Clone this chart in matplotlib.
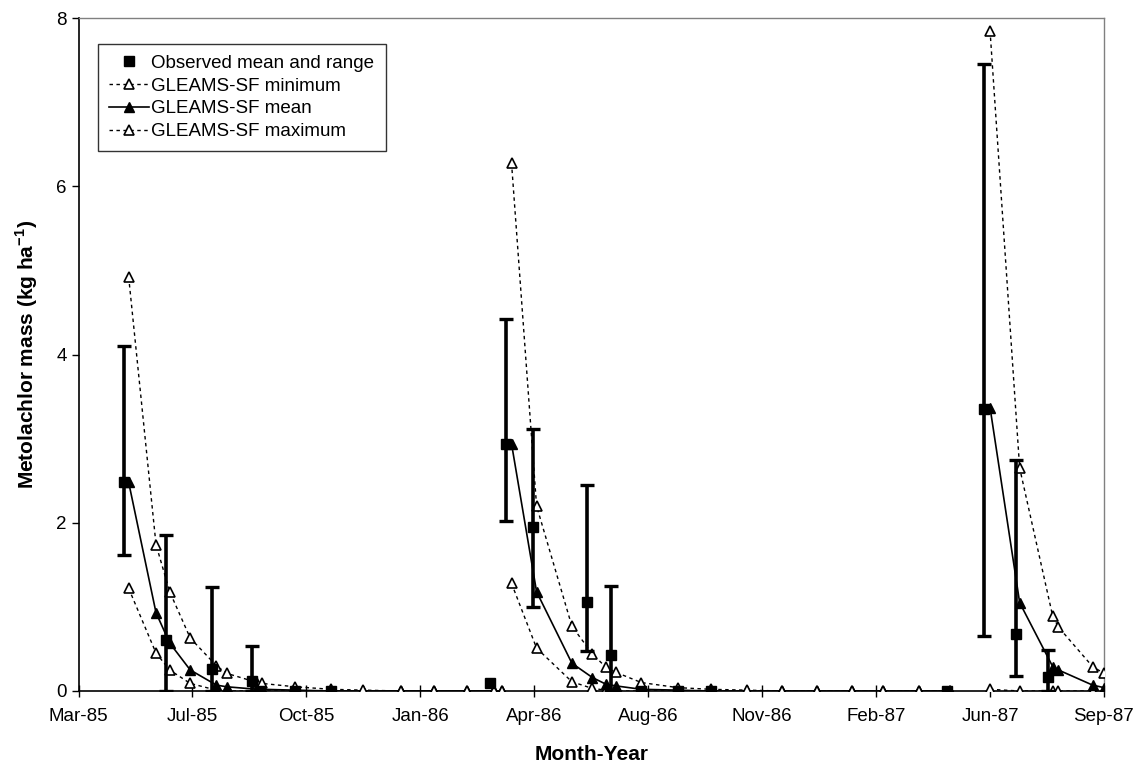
import numpy as np
import matplotlib
matplotlib.use("Agg")
import matplotlib.pyplot as plt
import matplotlib.dates as mdates
import datetime

plt.rcParams['font.family'] = ['Liberation Sans', 'DejaVu Sans']
plt.rcParams['mathtext.fontset'] = 'custom'
plt.rcParams['mathtext.rm'] = 'Liberation Sans'
plt.rcParams['mathtext.bf'] = 'Liberation Sans:bold'

# Observed metolachlor mass (mean, min, max of samples)
obs_dates = ['1985-05-04', '1985-06-10', '1985-07-20', '1985-08-24', '1985-08-31',
             '1985-10-01', '1985-11-02', '1986-03-21', '1986-04-04', '1986-04-28',
             '1986-06-14', '1986-07-05', '1986-08-01', '1986-09-02', '1986-10-01',
             '1987-04-26', '1987-05-29', '1987-06-26', '1987-07-24']
obs_mean = [2.48, 0.61, 0.26, 0.12, 0.0, 0.0, 0.0, 0.10, 2.94, 1.95,
            1.06, 0.43, 0.0, 0.0, 0.0, 0.0, 3.35, 0.68, 0.17]
obs_low = [1.62, 0.0, 0.0, 0.0, 0.0, 0.0, 0.0, 0.10, 2.02, 1.00,
           0.47, 0.0, 0.0, 0.0, 0.0, 0.0, 0.65, 0.18, 0.0]
obs_high = [4.10, 1.85, 1.24, 0.53, 0.0, 0.0, 0.0, 0.10, 4.42, 3.12,
            2.45, 1.25, 0.0, 0.0, 0.0, 0.0, 7.45, 2.75, 0.49]

# GLEAMS-SF simulated values (season = application year the line belongs to)
sim_dates = ['1985-05-08', '1985-06-01', '1985-06-13', '1985-07-01', '1985-07-24',
             '1985-08-02', '1985-08-29', '1985-09-02', '1985-10-01', '1985-11-02',
             '1985-11-30', '1986-01-02', '1986-01-31', '1986-03-01', '1986-03-25',
             '1986-04-01', '1986-04-09', '1986-05-01', '1986-06-01', '1986-06-19',
             '1986-07-01', '1986-07-10', '1986-08-01', '1986-09-02', '1986-10-01',
             '1986-11-02', '1986-12-02', '1987-01-02', '1987-02-02', '1987-03-01',
             '1987-04-02', '1987-04-29', '1987-06-03', '1987-06-29', '1987-07-28',
             '1987-08-02', '1987-09-01', '1987-09-11']
sim_season = [1985] * 16 + [1986] * 16 + [1987] * 6
sim_min = [1.22, 0.45, 0.25, 0.09, 0.01, 0.0, 0.0, 0.0, 0.0, 0.0,
           0.0, 0.0, 0.0, 0.0, 0.0, 0.0, 1.28, 0.51, 0.11, 0.03,
           0.01, 0.0, 0.0, 0.0, 0.0, 0.0, 0.0, 0.0, 0.0, 0.0,
           0.0, 0.0, 0.02, 0.0, 0.0, 0.0, 0.0, 0.0]
sim_mean = [2.48, 0.93, 0.57, 0.25, 0.07, 0.05, 0.02, 0.02, 0.01, 0.0,
            0.0, 0.0, 0.0, 0.0, 0.0, 0.0, 2.94, 1.18, 0.33, 0.16,
            0.08, 0.06, 0.02, 0.01, 0.0, 0.0, 0.0, 0.0, 0.0, 0.0,
            0.0, 0.0, 3.37, 1.05, 0.29, 0.25, 0.07, 0.04]
sim_max = [4.92, 1.74, 1.18, 0.63, 0.30, 0.21, 0.10, 0.09, 0.05, 0.02,
           0.01, 0.0, 0.0, 0.0, 0.0, 0.0, 6.28, 2.20, 0.77, 0.44,
           0.28, 0.22, 0.10, 0.04, 0.02, 0.01, 0.0, 0.0, 0.0, 0.0,
           0.0, 0.0, 7.85, 2.65, 0.89, 0.76, 0.29, 0.21]

odates = np.array([datetime.datetime.strptime(d, '%Y-%m-%d') for d in obs_dates])
sdates = np.array([datetime.datetime.strptime(d, '%Y-%m-%d') for d in sim_dates])
sim_season = np.array(sim_season)
obs_mean = np.array(obs_mean)
obs_low = np.array(obs_low)
obs_high = np.array(obs_high)

fig = plt.figure(figsize=(11.4, 7.67), dpi=100)
ax = fig.add_axes([0.0689, 0.0991, 0.8995, 0.8774])

fs = 13.5
dotted = (0, (2.5, 2.5))

styles = [
    (sim_min, dict(color='black', lw=1.0, ls=dotted, marker='^', ms=7, mfc='white', mec='black', mew=1.2), 'GLEAMS-SF minimum'),
    (sim_mean, dict(color='black', lw=1.2, ls='-', marker='^', ms=7, mfc='black', mec='black'), 'GLEAMS-SF mean'),
    (sim_max, dict(color='black', lw=1.0, ls=dotted, marker='^', ms=7, mfc='white', mec='black', mew=1.2), 'GLEAMS-SF maximum'),
]
handles = {}
for vals, kw, lab in styles:
    vals = np.array(vals)
    for season in np.unique(sim_season):
        m = sim_season == season
        h, = ax.plot(sdates[m], vals[m], zorder=3, **kw)
    handles[lab] = h

# observed mean and range
has_range = obs_high > obs_low
ax.errorbar(odates[has_range], obs_mean[has_range],
            yerr=[obs_mean[has_range] - obs_low[has_range], obs_high[has_range] - obs_mean[has_range]],
            fmt='none', ecolor='black', elinewidth=2.6, capsize=5, capthick=2.4, zorder=4)
h, = ax.plot(odates, obs_mean, ls='none', marker='s', ms=7.5, color='black', zorder=5)
handles['Observed mean and range'] = h

# axes
start = datetime.datetime(1985, 3, 25)
ax.set_xlim(start, start + datetime.timedelta(days=900))
ax.set_xticks([start + datetime.timedelta(days=100 * k) for k in range(10)])
ax.xaxis.set_major_formatter(mdates.DateFormatter('%b-%y'))
ax.set_ylim(0, 8)
ax.set_yticks([0, 2, 4, 6, 8])
ax.tick_params(axis='x', direction='inout', length=9, width=1, labelsize=fs, pad=8)
ax.tick_params(axis='y', direction='out', length=5, width=1, labelsize=fs)
for s in ['left', 'bottom']:
    ax.spines[s].set_color('black')
    ax.spines[s].set_linewidth(1.2)
for s in ['top', 'right']:
    ax.spines[s].set_color('#808080')
    ax.spines[s].set_linewidth(1.0)

ax.set_xlabel('Month-Year', fontsize=15, fontweight='bold', labelpad=14)
ax.set_ylabel(r'Metolachlor mass (kg ha$^{\mathbf{-1}}$)', fontsize=15, fontweight='bold', labelpad=12)

order = ['Observed mean and range', 'GLEAMS-SF minimum', 'GLEAMS-SF mean', 'GLEAMS-SF maximum']
leg = ax.legend([handles[l] for l in order], order, loc='upper left', bbox_to_anchor=(0.019, 0.962),
                borderaxespad=0, fontsize=fs, frameon=True, fancybox=False, edgecolor='black',
                handlelength=2.1, handletextpad=0.15, labelspacing=0.3, borderpad=0.6)
leg.get_frame().set_linewidth(1.0)

plt.savefig('out.png', dpi=100)
